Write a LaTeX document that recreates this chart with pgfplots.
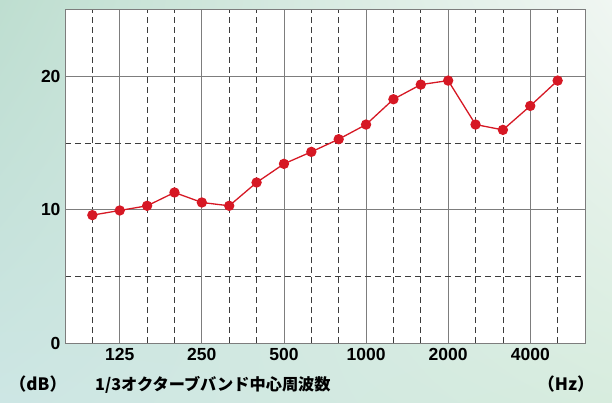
\documentclass[border=0pt]{standalone}
\usepackage{pgfplots}
\pgfplotsset{compat=1.18}
\usetikzlibrary{shadings}
\usepackage{fontspec}
\setmainfont{Liberation Sans}
\newfontfamily\jpfont{Noto Sans CJK JP}
\definecolor{lred}{RGB}{214,24,36}
\definecolor{gridsolid}{RGB}{125,125,125}
\definecolor{griddash}{RGB}{60,60,60}
\definecolor{bgul}{RGB}{190,222,208}
\definecolor{bgur}{RGB}{240,246,242}
\definecolor{bgll}{RGB}{205,230,228}
\definecolor{bglr}{RGB}{215,236,222}
\begin{document}
\begin{tikzpicture}[x=1bp,y=1bp]
\shade[upper left=bgul,upper right=bgur,lower left=bgll,lower right=bglr]
  (0,0) rectangle (612,402);
\begin{axis}[
  at={(65bp,59bp)}, anchor=south west,
  scale only axis, width=520bp, height=333bp,
  xmin=-1, xmax=18, ymin=0, ymax=25,
  axis background/.style={fill=white},
  axis line style={gridsolid, line width=1pt},
  xtick={1,4,7,10,13,16},
  xticklabels={125,250,500,1000,2000,4000},
  minor xtick={0,2,3,5,6,8,9,11,12,14,15,17},
  ytick={0,10,20},
  minor ytick={5,15},
  major tick length=0pt, minor tick length=0pt,
  xmajorgrids, ymajorgrids, xminorgrids, yminorgrids,
  major grid style={gridsolid, line width=0.9pt},
  minor grid style={griddash, dash pattern=on 6bp off 4bp, line width=0.7pt},
  tick label style={font=\fontsize{17.5bp}{20bp}\selectfont\bfseries},
  /pgf/number format/assume math mode=true,
  xticklabel style={yshift=-2bp},
  yticklabel style={xshift=-1bp},
  clip=false,
]
\addplot[lred, line width=1.3pt, mark=*, mark size=4.5bp, mark options={fill=lred, draw=lred}]
  coordinates {
  (0,9.6) (1,9.95) (2,10.3) (3,11.3) (4,10.55) (5,10.3) (6,12.05) (7,13.45)
  (8,14.35) (9,15.3) (10,16.4) (11,18.3) (12,19.4) (13,19.7) (14,16.4)
  (15,16.0) (16,17.8) (17,19.7)
  };
\end{axis}
\node[anchor=base, font=\jpfont\fontsize{17bp}{20bp}\selectfont\bfseries] at (38,12) {（dB）};
\node[anchor=base west, font=\jpfont\fontsize{16.2bp}{20bp}\selectfont\bfseries, inner sep=0pt] at (95,12) {1/3オクターブバンド中心周波数};
\node[anchor=base, font=\jpfont\fontsize{17bp}{20bp}\selectfont\bfseries] at (566,12) {（Hz）};
\end{tikzpicture}
\end{document}
